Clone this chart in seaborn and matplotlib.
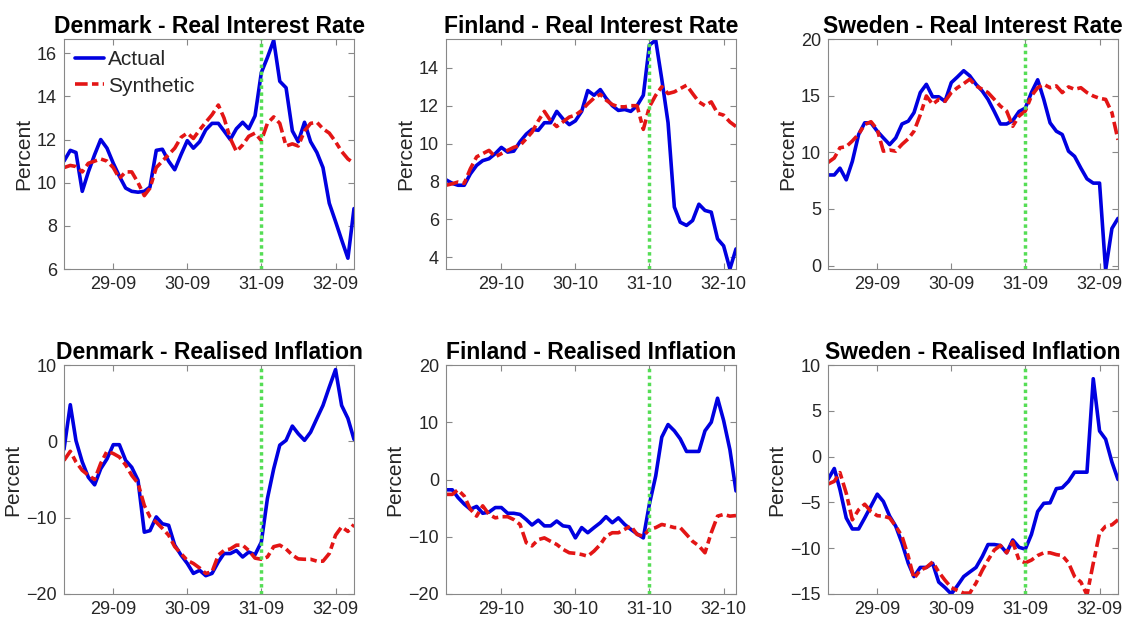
import pandas as pd
import matplotlib
matplotlib.use('Agg')
import matplotlib.pyplot as plt
import matplotlib.dates as mdates
import seaborn as sns

# Monthly observations, Jan 1929 - Dec 1932
months = pd.date_range('1929-01-01', periods=48, freq='MS')

# Real interest rate (percent)
dk_rate_actual = [11.0, 11.5, 11.4, 9.6, 10.5, 11.3, 12.0, 11.6, 10.9, 10.3,
                  9.75, 9.6, 9.56, 9.6, 9.8, 11.5, 11.55, 11.0, 10.6, 11.3,
                  11.95, 11.6, 11.9, 12.45, 12.75, 12.75, 12.4, 12.0, 12.5, 12.8,
                  12.5, 13.1, 15.1, 15.8, 16.6, 14.7, 14.4, 12.4, 11.9, 12.8,
                  11.9, 11.4, 10.7, 9.05, 8.2, 7.35, 6.5, 8.8]
dk_rate_synth = [10.7, 10.8, 10.75, 10.5, 10.9, 11.0, 11.1, 11.0, 10.7, 10.2,
                 10.5, 10.5, 10.0, 9.4, 9.75, 10.7, 11.0, 11.3, 11.6, 12.1,
                 12.3, 12.05, 12.45, 12.8, 13.15, 13.6, 13.0, 12.05, 11.45, 11.75,
                 12.15, 12.3, 11.95, 12.75, 13.05, 12.75, 11.7, 11.8, 11.7, 12.4,
                 12.75, 12.8, 12.5, 12.3, 11.9, 11.45, 11.1, 10.9]
fi_rate_actual = [8.09, 7.9, 7.8, 7.8, 8.4, 8.85, 9.1, 9.2, 9.47, 9.8,
                  9.55, 9.6, 10.1, 10.5, 10.75, 10.7, 11.1, 11.1, 11.7, 11.3,
                  11.0, 11.2, 11.7, 12.8, 12.55, 12.85, 12.4, 12.0, 11.75, 11.8,
                  11.7, 12.0, 12.55, 15.2, 15.46, 13.4, 11.1, 6.65, 5.85, 5.68,
                  5.94, 6.8, 6.47, 6.38, 4.97, 4.6, 3.38, 4.44]
fi_rate_synth = [7.8, 7.88, 7.97, 7.9, 8.67, 9.3, 9.47, 9.64, 9.3, 9.47,
                 9.64, 9.8, 9.9, 10.26, 10.6, 11.2, 11.7, 11.2, 10.9, 11.15,
                 11.4, 11.5, 11.75, 12.1, 12.4, 12.6, 12.3, 12.06, 11.94, 11.94,
                 12.0, 12.0, 10.75, 11.94, 12.55, 13.0, 12.64, 12.73, 12.9, 13.08,
                 12.64, 12.2, 12.0, 12.2, 11.6, 11.5, 11.14, 10.9]
se_rate_actual = [8.0, 8.0, 8.6, 7.57, 9.2, 11.57, 12.6, 12.6, 11.86, 11.27,
                  10.68, 11.27, 12.5, 12.75, 13.5, 15.27, 16.0, 14.9, 14.9, 14.5,
                  16.15, 16.65, 17.2, 16.75, 16.0, 15.4, 14.67, 13.6, 12.5, 12.5,
                  12.8, 13.6, 13.9, 15.27, 16.4, 14.67, 12.6, 11.86, 11.57, 10.1,
                  9.64, 8.6, 7.66, 7.28, 7.28, -0.4, 3.28, 4.17]
se_rate_synth = [9.1, 9.5, 10.4, 10.5, 11.0, 11.6, 12.45, 12.7, 12.0, 10.1,
                 10.2, 10.1, 10.7, 11.2, 11.86, 13.3, 14.97, 14.23, 14.67, 14.5,
                 15.27, 15.7, 16.06, 16.45, 15.86, 15.56, 15.27, 14.67, 14.08, 13.64,
                 12.3, 13.2, 13.64, 14.97, 15.7, 16.0, 15.7, 15.86, 15.27, 15.77,
                 15.56, 15.7, 15.27, 14.97, 14.76, 14.67, 13.5, 11.1]

# Realised inflation (percent)
dk_infl_actual = [-1.05, 4.8, 0.1, -2.7, -4.7, -5.7, -3.6, -2.3, -0.44, -0.44,
                  -2.5, -3.4, -5.1, -11.9, -11.7, -9.9, -10.8, -11.0, -13.6, -14.9,
                  -16.0, -17.3, -16.9, -17.6, -17.3, -15.8, -14.7, -14.7, -14.3, -15.15,
                  -14.5, -14.85, -13.2, -7.5, -3.6, -0.5, 0.13, 2.0, 1.0, 0.13,
                  1.2, 3.0, 4.7, 7.1, 9.4, 4.7, 3.0, 0.26]
dk_infl_synth = [-2.5, -1.3, -2.7, -3.8, -4.45, -5.0, -2.9, -1.3, -1.6, -2.05,
                 -3.1, -4.45, -5.5, -8.4, -9.9, -10.6, -11.4, -12.3, -13.8, -14.7,
                 -15.6, -16.0, -16.6, -17.3, -17.1, -14.9, -14.3, -14.1, -13.6, -13.6,
                 -14.3, -15.3, -15.45, -15.15, -13.8, -13.6, -14.1, -14.9, -15.4, -15.45,
                 -15.45, -15.7, -15.7, -14.7, -12.3, -11.2, -11.8, -10.9]
fi_infl_actual = [-1.8, -1.8, -3.15, -4.3, -5.2, -4.7, -5.9, -5.7, -4.9, -4.9,
                  -5.9, -5.9, -6.1, -7.0, -7.95, -7.1, -8.1, -8.1, -7.25, -8.1,
                  -8.25, -10.2, -8.4, -9.3, -8.4, -7.55, -6.5, -7.55, -6.7, -7.85,
                  -8.7, -9.5, -10.2, -4.3, 0.6, 7.4, 9.6, 8.5, 7.1, 4.9,
                  4.9, 4.9, 8.5, 10.0, 14.2, 10.3, 5.2, -2.0]
fi_infl_synth = [-2.6, -2.6, -1.8, -2.9, -5.2, -6.4, -4.6, -6.1, -6.7, -6.5,
                 -6.5, -7.0, -7.85, -11.05, -11.6, -10.5, -10.2, -10.8, -11.35, -12.2,
                 -12.8, -12.9, -13.1, -13.4, -12.5, -11.35, -9.9, -9.3, -9.3, -8.7,
                 -8.1, -9.6, -9.9, -8.7, -8.4, -7.85, -8.1, -8.4, -8.4, -9.6,
                 -10.8, -11.6, -12.8, -9.3, -6.4, -6.1, -6.4, -6.3]
se_infl_actual = [-2.5, -1.3, -3.6, -6.7, -7.9, -7.9, -6.7, -5.4, -4.1, -4.9,
                  -6.5, -7.6, -9.45, -11.65, -13.1, -12.1, -12.1, -11.65, -13.7, -14.3,
                  -15.0, -14.1, -13.1, -12.6, -12.1, -10.9, -9.6, -9.6, -9.7, -10.5,
                  -9.1, -9.9, -10.1, -8.5, -6.0, -5.1, -5.05, -3.5, -3.4, -2.7,
                  -1.7, -1.7, -1.7, 8.5, 2.8, 1.9, -0.6, -2.5]
se_infl_synth = [-3.0, -2.7, -1.75, -4.0, -6.9, -5.8, -5.2, -6.0, -6.45, -6.5,
                 -6.7, -7.6, -8.7, -10.9, -13.3, -12.4, -12.1, -11.5, -12.6, -13.5,
                 -14.3, -14.6, -14.9, -14.9, -13.8, -12.4, -11.3, -10.2, -9.7, -10.5,
                 -9.3, -11.3, -11.6, -11.3, -10.8, -10.5, -10.5, -10.7, -10.8, -11.6,
                 -13.1, -13.7, -15.1, -11.65, -8.35, -7.6, -7.45, -6.9]

# month each country left gold
switch_month = {'Denmark': 9, 'Finland': 10, 'Sweden': 9}

panels = [
    ('Denmark - Real Interest Rate', dk_rate_actual, dk_rate_synth, (6, 16.66), [6, 8, 10, 12, 14, 16]),
    ('Finland - Real Interest Rate', fi_rate_actual, fi_rate_synth, (3.38, 15.52), [4, 6, 8, 10, 12, 14]),
    ('Sweden - Real Interest Rate', se_rate_actual, se_rate_synth, (-0.3, 20), [0, 5, 10, 15, 20]),
    ('Denmark - Realised Inflation', dk_infl_actual, dk_infl_synth, (-20, 10), [-20, -10, 0, 10]),
    ('Finland - Realised Inflation', fi_infl_actual, fi_infl_synth, (-20, 20), [-20, -10, 0, 10, 20]),
    ('Sweden - Realised Inflation', se_infl_actual, se_infl_synth, (-15, 10), [-15, -10, -5, 0, 5, 10]),
]

sns.set_style('ticks')
plt.rcParams['font.family'] = ['Liberation Sans', 'DejaVu Sans']

W, H = 1132, 621
fig = plt.figure(figsize=(W / 100, H / 100), dpi=100)

col_left = [64, 446, 828]
row_span = [(39, 269), (365, 594)]

for k, (title, actual, synth, ylim, yticks) in enumerate(panels):
    r, c = divmod(k, 3)
    top, bot = row_span[r]
    ax = fig.add_axes([col_left[c] / W, (H - bot) / H, 290 / W, (bot - top) / H])

    country = title.split(' - ')[0]
    m = switch_month[country]

    sns.lineplot(x=months, y=actual, ax=ax, color='#0000e0', lw=2.6, label='Actual')
    sns.lineplot(x=months, y=synth, ax=ax, color='#e31515', lw=2.6,
                 linestyle=(0, (3.5, 1.2, 1.8, 1.2)), label='Synthetic')
    ax.axvline(pd.Timestamp(1931, m, 1), color='#55dd55', lw=2.5, ls=(0, (1, 1)), zorder=3)

    ax.set_xlim(months[0], months[-1])
    ax.set_ylim(*ylim)
    ax.set_yticks(yticks)
    ax.set_xticks([pd.Timestamp(y, m, 1) for y in range(1929, 1933)])
    ax.xaxis.set_major_formatter(mdates.DateFormatter('%y-%m'))

    ax.set_title(title, fontsize=16.5, fontweight='bold', color='black', pad=4)
    ax.set_ylabel('Percent', fontsize=15, color='#262626', labelpad=3)
    ax.set_xlabel('')
    ax.tick_params(direction='in', top=True, right=True, length=4, width=0.8,
                   color='#888888', labelcolor='#262626', labelsize=13, pad=5)
    for s in ax.spines.values():
        s.set_visible(True)
        s.set_color('#888888')
        s.set_linewidth(0.8)

    if k == 0:
        ax.legend(loc='upper left', frameon=False, fontsize=15, handlelength=1.35,
                  handletextpad=0.2, labelspacing=0.35, borderaxespad=0.15)
    elif ax.get_legend() is not None:
        ax.get_legend().remove()

fig.savefig('out.png', dpi=100, facecolor='white')
